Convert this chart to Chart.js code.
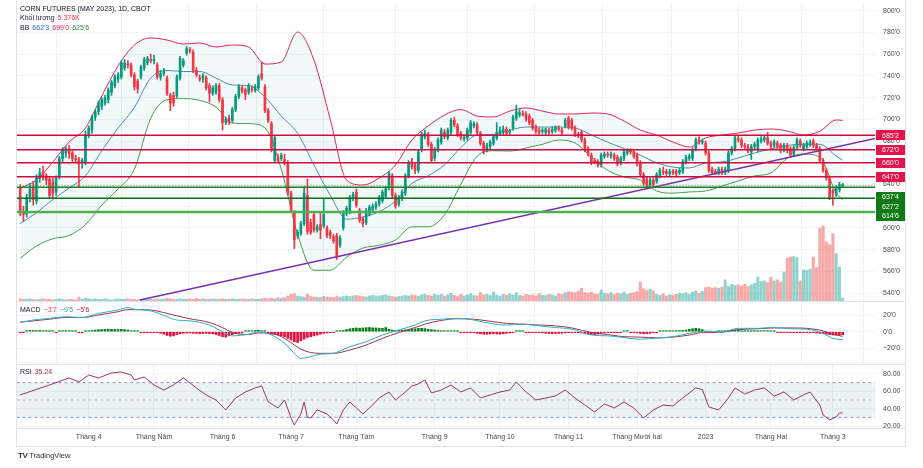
<!DOCTYPE html>
<html><head><meta charset="utf-8">
<script src="https://cdn.jsdelivr.net/npm/chart.js@4.4.1/dist/chart.umd.min.js"></script>
<style>
html,body{margin:0;padding:0;background:#fff;}
body{width:923px;height:468px;position:relative;overflow:hidden;font-family:"Liberation Sans",Arial,sans-serif;}
.w{position:absolute;left:0;width:905px;}
.ln{position:absolute;background:#e0e3eb;}
.lg{position:absolute;font-size:7px;line-height:8px;color:#131722;white-space:nowrap;}
.lg span{margin-left:3px;}
</style></head><body>
<div class="w" style="top:0;height:302px"><canvas id="cMain"></canvas></div>
<div class="w" style="top:302px;height:62px"><canvas id="cMacd"></canvas></div>
<div class="w" style="top:364px;height:82px"><canvas id="cRsi"></canvas></div>
<div class="ln" style="left:16px;top:301px;width:889px;height:1px"></div>
<div class="ln" style="left:16px;top:364px;width:889px;height:1px"></div>
<div class="ln" style="left:16px;top:428px;width:889px;height:1px"></div>
<div class="ln" style="left:16px;top:446px;width:889px;height:1px"></div>
<div class="ln" style="left:16px;top:0;width:1px;height:447px"></div>
<div class="ln" style="left:905px;top:0;width:1px;height:447px"></div>
<div class="lg" style="left:20px;top:5px">CORN FUTURES (MAY 2023), 1D, CBOT</div>
<div class="lg" style="left:20px;top:13.5px">Khối lượng<span style="color:#f23645">5.376K</span></div>
<div class="lg" style="left:20px;top:23.5px">BB<span style="color:#2f6fb5">662'3</span><span style="color:#e0245e">699'0</span><span style="color:#2e8b3a">625'6</span></div>
<div class="lg" style="left:20px;top:306px">MACD<span style="color:#f23645">−3'7</span><span style="color:#26a69a">−9'5</span><span style="color:#c2185b">−5'6</span></div>
<div class="lg" style="left:20px;top:368px">RSI<span style="color:#a1345f">35.24</span></div>
<div class="lg" style="left:18px;top:452px;font-size:7.5px;color:#333"><b style="font-size:8px;letter-spacing:-0.5px">TV</b> TradingView</div>
<script>
// ---------- DATA ----------
const opens=[637,615,613,628,637,625,646,651,648,645,642,633,648,664,669,673,669,664,663,660,661,686,690,702,707,712,715,718,725,731,737,739,747,751,750,741,735,739,747,752,755,754,750,739,742,738,722,722,722,738,750,761,764,762,745,738,737,738,731,724,725,731,718,697,701,699,709,721,729,727,725,728,727,729,742,730,708,696,662,665,664,663,660,632,614,593,595,604,630,605,612,598,603,602,600,596,592,593,584,600,613,615,627,633,616,608,605,613,617,619,622,625,629,637,648,630,622,627,632,648,661,658,653,672,684,686,677,664,672,679,688,683,688,699,694,687,682,683,688,694,695,687,678,672,675,678,683,687,688,691,688,692,701,704,705,705,703,699,693,690,689,688,690,689,690,692,690,694,701,699,692,686,688,681,673,667,662,661,658,666,668,666,667,665,660,664,669,671,670,667,660,649,645,639,644,643,648,652,652,650,652,652,651,652,661,664,664,673,681,679,678,669,654,652,651,654,651,653,669,673,682,681,676,675,670,675,672,680,681,683,678,676,678,676,672,676,673,668,674,680,673,675,677,680,676,673,662,653,646,634,631,635,639];
const highs=[640,620,631,641,643,649,655,657,650,647,646,648,666,674,675,676,671,667,665,664,689,694,704,709,717,720,722,729,736,741,743,754,755,754,752,743,737,750,757,758,760,759,752,745,747,740,724,725,741,758,756,767,766,764,748,741,742,740,733,731,733,733,720,702,704,711,723,732,731,729,733,731,732,741,753,732,710,698,685,668,669,668,662,634,616,598,606,638,645,608,614,603,615,627,602,598,594,595,593,616,620,630,633,636,618,610,618,621,622,624,630,635,638,652,650,632,630,635,650,662,664,660,672,688,690,688,679,674,683,692,691,692,701,702,696,689,686,692,699,698,697,689,680,678,681,686,697,693,694,693,691,704,713,709,708,707,705,701,695,692,692,692,692,693,694,694,692,701,703,701,694,688,690,683,675,669,664,663,669,670,670,670,669,667,666,672,673,673,672,669,662,651,647,646,646,651,655,656,654,654,654,654,655,663,667,668,674,683,684,682,680,671,656,654,656,656,656,671,675,685,685,683,678,677,677,679,683,684,685,688,680,681,680,678,678,678,675,676,683,682,678,680,681,682,678,675,664,655,648,636,639,642,641];
const lows=[611,606,610,624,621,622,642,644,640,628,628,630,645,660,665,664,661,660,637,655,658,683,687,699,704,709,713,715,722,729,734,737,745,747,739,727,724,737,745,750,752,751,737,736,740,722,708,712,720,736,748,759,761,743,739,735,734,727,716,722,723,716,690,695,695,697,707,719,724,718,723,725,725,727,736,706,697,670,660,660,662,658,630,614,581,590,593,602,594,594,596,596,590,600,591,590,586,571,582,598,611,613,625,619,605,601,603,611,615,617,620,623,627,635,628,618,620,625,630,646,654,650,651,670,682,675,660,662,670,677,682,681,686,693,684,681,680,681,686,692,686,676,668,670,673,676,681,685,686,685,686,690,699,702,703,698,695,690,687,686,687,686,686,687,688,689,686,692,691,690,684,683,679,670,666,658,659,656,656,664,665,664,662,657,658,662,667,668,664,657,647,639,636,637,638,641,646,649,648,648,649,648,649,650,659,662,662,671,677,677,667,651,649,649,649,649,649,651,667,671,679,674,673,669,663,673,670,678,679,676,673,674,673,669,670,669,665,666,672,674,671,673,675,674,671,660,651,644,626,621,629,633,637];
const closes=[615,612,628,636,626,646,651,648,644,630,632,646,664,671,673,668,664,663,659,662,686,692,702,707,715,718,720,727,734,739,741,752,752,750,741,730,728,748,755,756,754,755,739,742,744,724,715,715,739,756,754,765,763,745,741,737,740,729,724,729,731,718,697,700,697,709,721,730,726,723,731,727,730,739,738,708,699,672,683,662,667,660,632,616,589,596,604,632,597,596,598,601,598,612,593,593,588,573,591,614,618,628,631,621,607,604,616,619,620,622,628,633,636,650,630,620,628,633,648,660,656,653,670,686,687,677,662,672,681,690,684,690,699,695,686,683,683,690,697,696,688,678,670,676,679,684,688,690,691,687,689,702,707,706,704,700,697,692,689,688,690,691,688,691,693,691,688,699,693,692,686,685,681,672,668,660,661,658,667,668,667,668,664,659,664,670,671,670,666,659,649,641,638,644,640,649,653,651,650,652,651,650,653,661,665,666,672,681,679,680,669,653,651,651,654,651,654,669,673,683,681,676,675,671,675,677,681,682,683,678,675,679,675,671,676,671,667,674,681,676,676,678,679,676,673,662,653,646,628,632,637,640,639];
const volumes=[4,3,3,4,3,2,3,4,3,3,2,3,4,3,2,3,3,2,7,3,5,4,3,4,3,3,4,3,2,3,4,3,3,4,3,3,2,3,4,3,3,3,4,3,3,5,4,3,3,4,3,3,4,3,5,3,4,3,3,4,3,3,4,3,3,4,3,3,4,3,3,4,3,3,4,5,4,5,4,6,5,6,9,12,13,9,8,7,12,8,7,7,6,8,7,7,6,9,7,8,9,8,9,10,9,8,7,9,10,9,9,10,11,9,8,7,8,9,10,9,11,10,9,11,12,10,9,12,10,12,9,11,14,10,8,12,9,11,13,10,9,15,11,12,10,16,11,9,12,10,13,11,15,10,9,12,10,11,9,13,10,10,12,11,9,13,12,15,17,16,15,18,23,15,14,16,13,12,20,14,13,15,12,14,13,16,12,14,15,17,34,22,19,21,18,12,10,13,9,11,10,12,14,13,15,12,16,18,14,17,24,25,23,24,23,25,38,26,30,28,29,27,30,26,29,32,43,35,36,33,43,36,38,34,52,77,79,80,78,36,56,55,57,79,60,131,135,106,101,121,85,61,5.376];
const priceTicks=[540,560,580,600,620,640,660,680,700,720,740,760,780,800];
const monthIdx=[21,41,62,83,103,127,147,168,189,210,230,249];
const monthLabels=["Tháng 4","Tháng Năm","Tháng 6","Tháng 7","Tháng Tám","Tháng 9","Tháng 10","Tháng 11","Tháng Mười hai","2023","Tháng Hai","Tháng 3"];
const bbIdx=[0,5,10,15,20,25,30,35,40,45,50,55,60,65,70,75,80,85,90,95,100,105,110,115,120,125,130,135,140,145,150,155,160,165,170,175,180,185,190,195,200,205,210,215,220,225,230,235,240,245,250,252];
const bbUpper=[636.7,644.1,660.7,679.1,692.0,721.5,749.1,768.4,774.9,773.0,769.3,770.3,766.6,768.4,766.6,750.9,752.8,780.4,754.6,700.0,644.1,639.5,646.0,657.9,680.9,693.8,703.9,709.0,703.0,702.1,707.6,710.4,707.6,704.9,704.9,705.8,704.9,698.4,690.1,685.5,679.1,674.5,682.8,685.5,687.4,690.1,691.1,689.2,685.5,689.0,699.4,699.0];
const bbBasis=[604.0,614.0,626.1,636.7,648.0,671.0,692.0,711.0,738.0,745.0,744.0,744.0,738.0,731.6,731.0,720.5,703.0,687.0,658.0,630.0,608.0,610.1,615.0,624.8,641.0,648.0,658.0,674.0,685.5,686.0,690.1,692.9,692.9,692.9,692.0,685.5,679.0,673.0,667.0,660.0,656.0,655.2,659.8,660.7,664.4,669.0,672.6,676.0,677.0,677.0,666.2,662.3];
const bbLower=[572.0,583.3,590.0,593.0,603.0,621.0,636.0,654.0,701.0,718.0,719.0,717.5,711.3,696.5,696.0,692.0,654.0,594.0,561.0,561.0,573.0,581.4,584.0,588.8,601.0,601.0,612.0,640.0,666.0,671.0,670.8,673.6,677.0,680.9,678.2,665.3,653.0,647.0,644.0,634.0,632.0,633.1,634.0,638.6,643.2,647.8,650.6,664.0,668.0,665.0,632.1,625.75];
const macdIdx=[0,4,9,14,19,24,30,33,35,40,45,48,52,58,63,65,70,73,77,81,84,86,89,92,96,101,106,111,116,121,124,129,134,139,144,149,154,159,164,169,175,180,185,190,195,200,205,210,215,220,226,231,236,241,246,249,252];
const macdLine=[11,14,16,18,17,22,26,29,27,25,18,14,13,8,-2,-5,-3,0,-4,-14,-26,-32,-30,-27,-26,-18,-12,-4,2,8,13,15,16,14,10,8,9,7,5,3,-4,-5,-7,-9,-7.7,-6,-2,1,-0.5,4,4,5,3.5,3,-2,-8,-9.5];
const signalLine=[11.5,13,15,17,17,20,24,26.5,26.5,26,22,19,15.5,11,3,-1,-3.5,-1.5,-2,-8,-16,-21,-25,-26,-26,-22,-16,-8,-1,5,9,13.5,15.5,15,12.5,10,9,8,7,4.5,-1,-3.5,-6,-6.5,-7.5,-6.5,-4,-0.5,-0.5,2.5,3.5,4.5,4.5,4,1,-3,-5.6];
const macdHist=[-1,-1,1,1.5,1.5,1,1.5,1.2,1,0.5,0.3,-0.3,1,1.2,1.3,1,0.8,0.5,-0.6,-0.4,0.2,0.8,1.5,2,2.4,2.6,2.8,3,2.8,2.7,2.6,2.8,2.5,2,1,0.5,0.3,-0.5,-0.8,-0.6,-0.9,-1,-1.2,-2,-3,-4.5,-5.5,-5,-3.5,-2.5,-2,-1.8,-1.5,-2,-2,-2.5,-2.2,-2,-2.4,-2.6,-3.5,-4.5,-6,-6.5,-5,-3.5,-2.5,-2,-1.5,0.5,1,1.2,1.5,1.8,1.2,0.5,-2,-3,-3.5,-4,-5,-6,-8,-10,-12,-13,-11,-9,-7,-6,-5,-4,-3,-2,-1.5,-1,-0.3,0.3,0.5,1.5,2.5,3.5,4,4.5,4.2,4.5,4.8,5,4.6,4.5,4.2,4,5,3,2,1.5,1.8,2,2.2,2.5,3,3.5,4,4.2,3.8,3,2.5,2,1.5,1.2,1,0.8,1,0.6,0.3,-0.5,-0.8,-1,-1.2,-1,-2,-2.5,-3,-3,-2.8,-2.5,-2.8,-3,-2.5,-2,-1.5,-0.3,0.3,0.5,0.2,-0.2,-0.8,-1,-1.2,-1,-1.5,-2,-2.2,-2.4,-2.2,-2,-1.8,-1.5,-1,-0.8,-1,-1.2,-1.5,-2.5,-3,-3.5,-3.8,-3,-2,-1.5,-1,-0.8,-0.5,-0.3,-0.2,0.2,0.3,-0.2,-1,-1.5,-2,-2.5,-2.5,-2,-1,-0.3,0.2,0.3,0.5,0.8,1,1.2,1.3,1.5,2,2.8,3.5,4,3.5,2.5,-0.5,-0.8,-0.5,-0.2,0.2,0.3,0.8,1.5,2,2.2,1.8,1.2,1,1.2,1,0.8,1,0.8,0.6,0.5,0.3,0.1,-0.2,-0.3,-0.8,-1,-1.2,-0.8,-1,-1.2,-1,-0.8,-1,-1.2,-1.5,-2,-2.5,-3,-3.5,-4,-4.2,-3.8,-3.7];
const rsiIdx=[0,9,15,18,21,24,28,31,34,35,38,41,44,47,50,54,57,60,63,66,69,72,74,76,79,81,83,84,86,87,88,89,91,94,96,97,99,101,103,105,108,110,113,115,118,120,122,124,126,129,132,135,138,141,144,147,150,152,155,158,161,164,167,170,173,176,179,182,185,188,191,194,197,200,203,207,209,211,212,214,217,219,222,225,228,231,234,237,240,242,245,246,248,250,251,252];
const rsiVals=[55.8,67.3,75.4,70.8,78.8,75.4,81.2,82.3,78.8,73.1,76.5,67.3,61.5,67.3,75.4,63.9,55.8,50,38.5,52.3,59.2,63.9,66.2,47.7,40.8,50,29.2,21.2,33.9,47.7,30,29.2,38.5,33.9,27,22.3,38.5,47.7,40.8,33.9,44.2,52.3,59.2,50,59.2,66.2,68.5,73.1,58.1,61.5,67.3,59.2,63.9,52.3,55.8,59.2,61.5,70.8,59.2,50,52.3,54.6,61.5,52.3,44.2,36.2,45.4,40.8,47.7,40.8,29.2,38.5,44.2,43.1,52.3,64,62,42,40.8,38.5,52.3,63.9,56.9,61.5,63.9,54.6,59.2,50,55.8,59.2,44.2,32.7,27,30.4,35,35.24];
const rsiBands=[70,50,30];
const redLevels=[685.25,672,660,647];
const redLevelLabels=["685'2","672'0","660'0","647'0"];
const greenLevels=[637.5,627.25,614.75];
const greenLevelLabels=["637'4","627'2","614'6"];
const trendIdx=[36.7,262.6];
const trendPrice=[533.6,682.8];

// ---------- STYLE / LAYOUT ----------
const FONT='"Liberation Sans", Arial, sans-serif';
Chart.defaults.font.family=FONT;
const X_MIN=-0.97, X_MAX=261.9;
const UP='#089981', DN='#f23645';
const greenLabelShift=[9.5,8,4];
const N=closes.length;
const idx=closes.map((_,i)=>i);
const candleCol=idx.map(i=>closes[i]>=opens[i]?UP:DN);
const volCol=idx.map(i=>closes[i]>=opens[i]?'rgba(38,166,154,0.5)':'rgba(239,83,80,0.5)');

function xScale(show){
  return {type:'linear',min:X_MIN,max:X_MAX,offset:false,position:'bottom',
    afterBuildTicks:s=>{s.ticks=monthIdx.map(v=>({value:v}));},
    ticks:{display:show,autoSkip:false,maxRotation:0,padding:5,color:'#4a4a4a',font:{size:7},
      callback:v=>{const k=monthIdx.indexOf(v);return k>=0?monthLabels[k]:'';}},
    grid:{color:'#eef0f4',drawTicks:false,lineWidth:1},
    border:{display:false},
    afterFit:s=>{s.height=show?18:0;s.paddingLeft=0;s.paddingRight=0;}
  };
}
function yScale(min,max,tk,fmt){
  return {type:'linear',position:'right',min,max,
    afterBuildTicks:s=>{s.ticks=tk.map(v=>({value:v}));},
    ticks:{padding:8,color:'#4a4a4a',font:{size:7},autoSkip:false,callback:fmt},
    grid:{color:'#f3f4f7',drawTicks:false},
    border:{display:false},
    afterFit:s=>{s.width=30;s.paddingTop=0;s.paddingBottom=0;}
  };
}
const common={responsive:true,maintainAspectRatio:false,animation:false,events:[],
  plugins:{legend:{display:false},tooltip:{enabled:false}}};

function hline(L,col,w,dash){
  return {type:'line',data:[{x:X_MIN-2,y:L},{x:X_MAX+2,y:L}],borderColor:col,borderWidth:w,
    borderDash:dash||[],pointRadius:0,order:0,yAxisID:'y'};
}
function box(ctx,y,col,txt){
  ctx.fillStyle=col;ctx.fillRect(876,Math.round(y-5),29,10);
  ctx.fillStyle='#fff';ctx.fillText(txt,890.5,y+0.5);
}
const labelBoxes={id:'labelBoxes',afterDraw(chart){
  const ctx=chart.ctx,ys=chart.scales.y;
  ctx.save();ctx.font='7px '+FONT;ctx.textAlign='center';ctx.textBaseline='middle';
  redLevels.forEach((L,k)=>box(ctx,ys.getPixelForValue(L),'#e5134a',redLevelLabels[k]));
  greenLevels.forEach((L,k)=>box(ctx,ys.getPixelForValue(L)+greenLabelShift[k],'#117a16',greenLevelLabels[k]));
  ctx.restore();
}};

// ---------- MAIN PANE ----------
new Chart(document.getElementById('cMain'),{
  type:'bar',
  data:{datasets:[
    ...redLevels.map(L=>hline(L,'#d4063f',1.5)),
    hline(greenLevels[0],'#1d7a2e',1.5),
    hline(greenLevels[1],'#0c6b1c',1.5),
    hline(greenLevels[2],'#4caf50',2.5),
    hline(closes[N-1],'#7a9a4a',1,[1,2]),
    {type:'line',data:trendIdx.map((x,k)=>({x,y:trendPrice[k]})),borderColor:'#7b2fb0',borderWidth:1.5,pointRadius:0,order:0},
    {type:'bar',data:idx.map(i=>({x:i,y:[opens[i],closes[i]]})),backgroundColor:candleCol,barThickness:2,grouped:false,minBarLength:1,order:1},
    {type:'bar',data:idx.map(i=>({x:i,y:[lows[i],highs[i]]})),backgroundColor:candleCol,barThickness:1,grouped:false,order:2},
    {type:'line',data:bbIdx.map((x,k)=>({x,y:bbUpper[k]})),borderColor:'#e0245e',borderWidth:1,pointRadius:0,cubicInterpolationMode:'monotone',fill:'+2',backgroundColor:'rgba(0,140,140,0.055)',order:5},
    {type:'line',data:bbIdx.map((x,k)=>({x,y:bbBasis[k]})),borderColor:'#4f8fb0',borderWidth:1,pointRadius:0,cubicInterpolationMode:'monotone',order:5},
    {type:'line',data:bbIdx.map((x,k)=>({x,y:bbLower[k]})),borderColor:'#43a047',borderWidth:1,pointRadius:0,cubicInterpolationMode:'monotone',order:5},
    {type:'bar',data:idx.map(i=>({x:i,y:volumes[i]})),yAxisID:'yv',backgroundColor:volCol,barThickness:2.4,grouped:false,order:8}
  ]},
  options:{...common,
    layout:{padding:{left:17,right:0,top:5,bottom:1}},
    scales:{x:xScale(false),
      y:yScale(532.7,805.25,priceTicks,v=>v+"'0"),
      yv:{display:false,min:0,max:532}}
  },
  plugins:[labelBoxes]
});

// ---------- MACD PANE ----------
new Chart(document.getElementById('cMacd'),{
  type:'bar',
  data:{datasets:[
    {type:'line',data:macdIdx.map((x,k)=>({x,y:macdLine[k]})),borderColor:'#2ab0c5',borderWidth:1,pointRadius:0,cubicInterpolationMode:'monotone',order:1},
    {type:'line',data:macdIdx.map((x,k)=>({x,y:signalLine[k]})),borderColor:'#a3324f',borderWidth:1,pointRadius:0,cubicInterpolationMode:'monotone',order:2},
    {type:'bar',data:idx.map(i=>({x:i,y:macdHist[i]})),backgroundColor:macdHist.map(v=>v>=0?'#0e7d1c':'#e8103e'),barThickness:2,grouped:false,minBarLength:1,order:3}
  ]},
  options:{...common,
    layout:{padding:{left:17,right:0,top:0,bottom:0}},
    scales:{x:xScale(false),
      y:yScale(-38.8,35.65,[-20,0,20],v=>(v<0?'−':'')+Math.abs(v)+"'0")}
  }
});

// ---------- RSI PANE ----------
new Chart(document.getElementById('cRsi'),{
  type:'line',
  data:{datasets:[
    {data:[{x:X_MIN-2,y:rsiBands[0]},{x:X_MAX+2,y:rsiBands[0]}],borderColor:'#9598a1',borderWidth:1,borderDash:[3,3],pointRadius:0,fill:'+2',backgroundColor:'rgba(30,120,150,0.09)',order:3},
    {data:[{x:X_MIN-2,y:rsiBands[1]},{x:X_MAX+2,y:rsiBands[1]}],borderColor:'rgba(149,152,161,0.6)',borderWidth:1,borderDash:[3,3],pointRadius:0,order:3},
    {data:[{x:X_MIN-2,y:rsiBands[2]},{x:X_MAX+2,y:rsiBands[2]}],borderColor:'#9598a1',borderWidth:1,borderDash:[3,3],pointRadius:0,order:3},
    {data:rsiIdx.map((x,k)=>({x,y:rsiVals[k]})),borderColor:'#a1345f',borderWidth:1,pointRadius:0,tension:0,order:1}
  ]},
  options:{...common,
    layout:{padding:{left:17,right:0,top:0,bottom:0}},
    scales:{x:xScale(true),
      y:yScale(17.7,91.5,[20,40,60,80],v=>v.toFixed(2))}
  }
});
</script>
</body></html>
